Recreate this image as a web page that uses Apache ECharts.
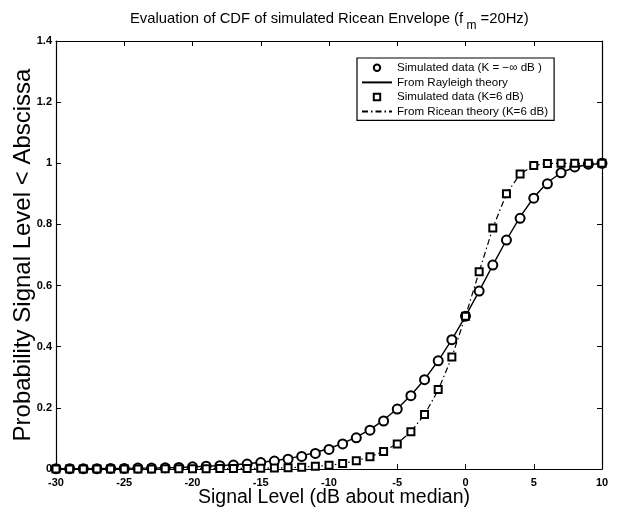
<!DOCTYPE html>
<html>
<head>
<meta charset="utf-8">
<script src="https://cdn.jsdelivr.net/npm/echarts@6/dist/echarts.min.js"></script>
<style>
html,body{margin:0;padding:0;background:#fff;}
#c{width:617px;height:510px;}
</style>
</head>
<body>
<div id="c"></div>
<script>
// Signal level (dB about median)
var levels = [-30,-29,-28,-27,-26,-25,-24,-23,-22,-21,-20,-19,-18,-17,-16,-15,-14,-13,-12,-11,-10,-9,-8,-7,-6,-5,-4,-3,-2,-1,0,1,2,3,4,5,6,7,8,9,10];
// Simulated data, K = -inf dB (circles)
var simRayleigh = [0.001,0.001,0.001,0.001,0.002,0.002,0.003,0.003,0.004,0.005,0.007,0.009,0.011,0.013,0.016,0.021,0.026,0.032,0.041,0.051,0.064,0.082,0.102,0.127,0.157,0.196,0.240,0.292,0.354,0.423,0.500,0.582,0.667,0.749,0.820,0.886,0.933,0.969,0.988,0.997,1.000];
// From Rayleigh theory (solid line)
var theoryRayleigh = [0.001,0.001,0.001,0.001,0.002,0.002,0.003,0.003,0.004,0.005,0.007,0.009,0.011,0.014,0.017,0.022,0.027,0.034,0.043,0.054,0.067,0.084,0.104,0.129,0.160,0.197,0.241,0.293,0.354,0.423,0.500,0.582,0.667,0.749,0.825,0.888,0.937,0.969,0.987,0.996,0.999];
// Simulated data, K = 6 dB (squares)
var simRicean = [0.0001,0.0001,0.0001,0.0002,0.0002,0.0003,0.0003,0.0004,0.0005,0.0007,0.0008,0.001,0.0013,0.0017,0.002,0.0026,0.0033,0.004,0.006,0.009,0.012,0.018,0.027,0.040,0.057,0.082,0.122,0.178,0.260,0.366,0.500,0.645,0.788,0.900,0.965,0.993,0.999,1.000,1.000,1.000,1.000];
// From Ricean theory, K = 6 dB (dash-dot line)
var theoryRicean = [0.0001,0.0001,0.0001,0.0002,0.0002,0.0003,0.0003,0.0004,0.0005,0.0007,0.0008,0.001,0.0013,0.0017,0.002,0.0026,0.0033,0.004,0.006,0.009,0.012,0.018,0.027,0.040,0.057,0.083,0.122,0.178,0.258,0.366,0.500,0.645,0.788,0.900,0.965,0.993,0.999,1.000,1.000,1.000,1.000];

var xTicks = {min:-30, max:10, interval:5};
var yTicks = {min:0, max:1.4, interval:0.2};

function pairs(xs, ys){ return xs.map(function(x,i){ return [x, ys[i]]; }); }

var FONT = 'Liberation Sans, Arial, Helvetica, sans-serif';
var chart = echarts.init(document.getElementById('c'), null, {renderer:'canvas'});
var tickStyle = {show:true, inside:true, length:5, lineStyle:{color:'#000', width:1}};
var lineAx = {show:true, onZero:false, lineStyle:{color:'#000', width:1.2}};
var names = ['Simulated data (K = \u2212\u221e dB )','From Rayleigh theory','Simulated data (K=6 dB)','From Ricean theory (K=6 dB)'];

chart.setOption({
  backgroundColor:'#fff',
  animation:false,
  title:{
    text:'{a|Evaluation of CDF of simulated Ricean Envelope (f}{b| m}{a| =20Hz)}',
    left:125, top:6,
    textStyle:{
      fontWeight:'normal',
      rich:{
        a:{fontFamily:FONT, fontSize:14.8, fontWeight:'normal', color:'#000', lineHeight:21, verticalAlign:'top'},
        b:{fontFamily:FONT, fontSize:12, fontWeight:'normal', color:'#000', lineHeight:21, verticalAlign:'bottom', padding:[10,0,0,0]}
      }
    }
  },
  grid:{left:56, right:15, top:41, bottom:41, containLabel:false, outerBoundsMode:'none'},
  legend:{
    orient:'vertical', left:357, top:58,
    backgroundColor:'#fff',
    borderColor:'#000', borderWidth:1.2, borderRadius:0,
    padding:[3,6,2,4],
    itemGap:1, itemWidth:30, itemHeight:8,
    textStyle:{fontFamily:FONT, fontSize:11.6, color:'#000', lineHeight:13.6},
    data:[
      {name:names[0]},
      {name:names[1], itemStyle:{opacity:0}},
      {name:names[2]},
      {name:names[3], itemStyle:{opacity:0}}
    ]
  },
  xAxis:[{
    type:'value', min:xTicks.min, max:xTicks.max, interval:xTicks.interval,
    axisLine:lineAx, axisTick:tickStyle, splitLine:{show:false},
    axisLabel:{color:'#000', fontFamily:FONT, fontSize:11, fontWeight:'bold', margin:8},
    name:'Signal Level (dB about median)', nameLocation:'middle', nameGap:19, nameMoveOverlap:false,
    nameTextStyle:{color:'#000', fontFamily:FONT, fontSize:19.5, padding:[0,0,0,10]}
  },{
    type:'value', position:'top', min:xTicks.min, max:xTicks.max, interval:xTicks.interval,
    axisLine:lineAx, axisTick:tickStyle, axisLabel:{show:false}, splitLine:{show:false}
  }],
  yAxis:[{
    type:'value', min:yTicks.min, max:yTicks.max, interval:yTicks.interval,
    axisLine:lineAx, axisTick:tickStyle, splitLine:{show:false},
    axisLabel:{color:'#000', fontFamily:FONT, fontSize:11, fontWeight:'bold', margin:4},
    name:'Probability Signal Level < Abscissa', nameLocation:'middle', nameGap:21, nameMoveOverlap:false,
    nameTextStyle:{color:'#000', fontFamily:FONT, fontSize:24}
  },{
    type:'value', position:'right', min:yTicks.min, max:yTicks.max, interval:yTicks.interval,
    axisLine:lineAx, axisTick:tickStyle, axisLabel:{show:false}, splitLine:{show:false}
  }],
  series:[
    {
      name:names[0], type:'line', data:pairs(levels, simRayleigh),
      symbol:'emptyCircle', symbolSize:9, lineStyle:{width:0, opacity:0},
      itemStyle:{color:'#000', borderColor:'#000', borderWidth:1.5}, z:5
    },
    {
      name:names[1], type:'line', data:pairs(levels, theoryRayleigh),
      showSymbol:false, symbol:'none', lineStyle:{color:'#000', width:1.4}, itemStyle:{color:'#000'}, z:4
    },
    {
      name:names[2], type:'line', data:pairs(levels, simRicean),
      symbol:'emptyRect', symbolSize:7, lineStyle:{width:0, opacity:0},
      itemStyle:{color:'#000', borderColor:'#000', borderWidth:1.5}, z:5
    },
    {
      name:names[3], type:'line', data:pairs(levels, theoryRicean),
      showSymbol:false, symbol:'none', lineStyle:{color:'#000', width:1.2, type:[6,3,1.5,3]}, itemStyle:{color:'#000'}, z:4
    }
  ]
});
</script>
</body>
</html>
